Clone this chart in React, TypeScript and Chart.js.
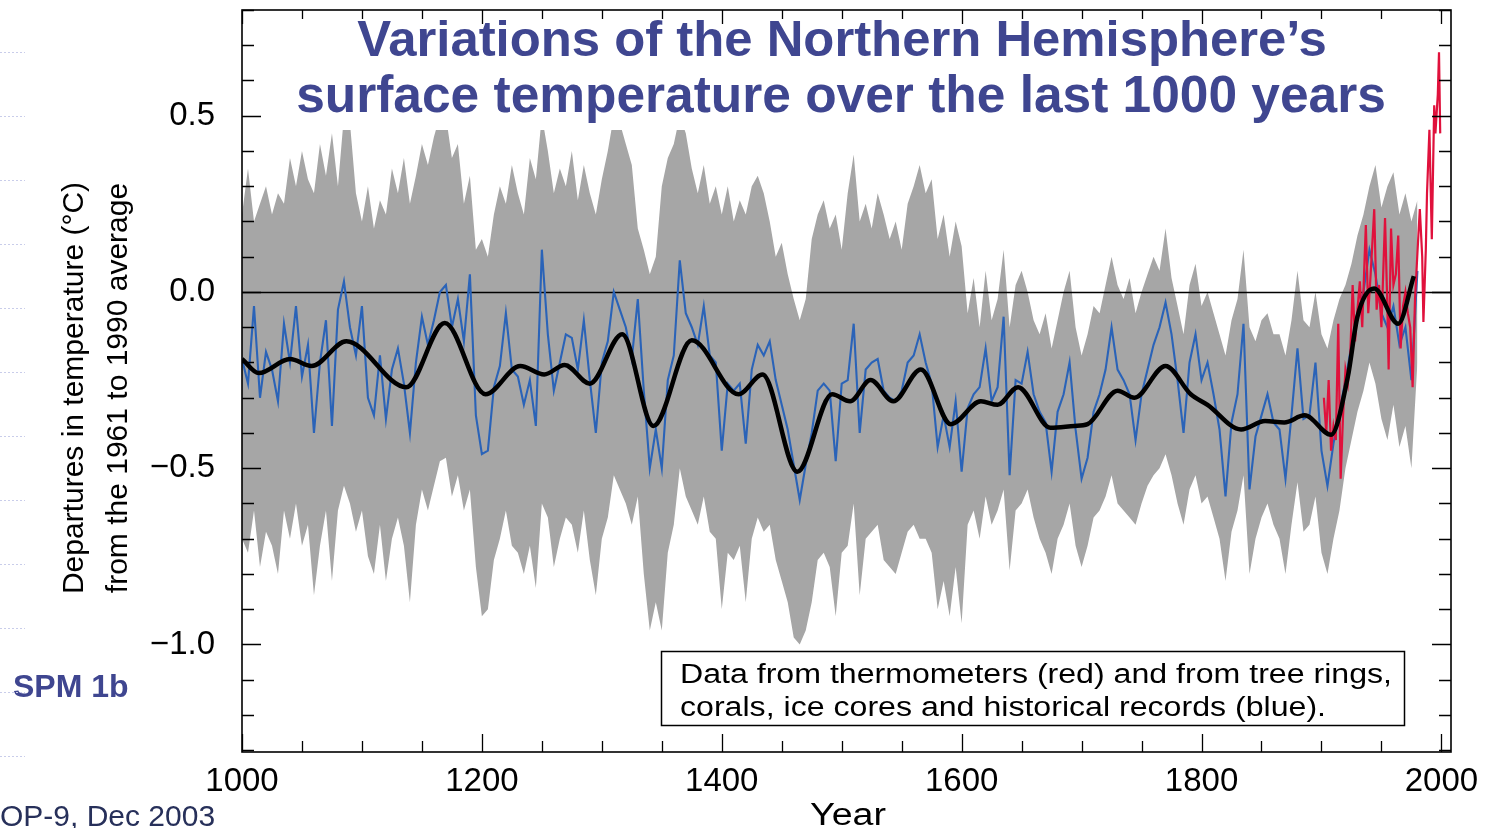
import React, { useEffect, useRef } from 'react';
import { Chart, registerables } from 'chart.js';

Chart.register(...registerables);

const W = 1486;
const H = 828;

// ---- Data ----
const proxyYears = Array.from({ length: 197 }, (_, i) => 1000 + i * 5);

const blueValues = [
  -0.19, -0.26, -0.04, -0.30, -0.17, -0.22, -0.31, -0.09, -0.20, -0.04, -0.24, -0.15, -0.40, -0.20, -0.08, -0.38, -0.05, 0.03, -0.10, -0.18,
  -0.04, -0.30, -0.35, -0.18, -0.36, -0.22, -0.16, -0.26, -0.40, -0.20, -0.07, -0.15, -0.08, 0.00, 0.02, -0.10, -0.02, -0.14, 0.05, -0.35,
  -0.46, -0.45, -0.27, -0.21, -0.06, -0.22, -0.24, -0.32, -0.25, -0.38, 0.12, -0.12, -0.28, -0.20, -0.12, -0.13, -0.22, -0.08, -0.25, -0.40,
  -0.20, -0.14, 0.00, -0.05, -0.10, -0.19, -0.02, -0.28, -0.50, -0.39, -0.50, -0.25, -0.18, 0.09, -0.06, -0.10, -0.15, -0.04, -0.18, -0.20,
  -0.45, -0.26, -0.28, -0.26, -0.43, -0.22, -0.15, -0.18, -0.14, -0.25, -0.32, -0.39, -0.49, -0.59, -0.49, -0.40, -0.28, -0.26, -0.28, -0.48,
  -0.26, -0.25, -0.09, -0.40, -0.22, -0.20, -0.19, -0.28, -0.30, -0.31, -0.28, -0.20, -0.18, -0.12, -0.20, -0.26, -0.44, -0.35, -0.44, -0.31,
  -0.51, -0.33, -0.29, -0.27, -0.16, -0.31, -0.27, -0.07, -0.52, -0.25, -0.26, -0.17, -0.29, -0.34, -0.37, -0.51, -0.34, -0.29, -0.20, -0.39,
  -0.53, -0.47, -0.34, -0.29, -0.22, -0.10, -0.22, -0.25, -0.29, -0.42, -0.29, -0.22, -0.15, -0.10, -0.03, -0.12, -0.25, -0.40, -0.20, -0.12,
  -0.25, -0.20, -0.29, -0.39, -0.58, -0.37, -0.29, -0.09, -0.56, -0.41, -0.35, -0.29, -0.37, -0.39, -0.53, -0.35, -0.16, -0.36, -0.35, -0.20,
  -0.45, -0.55, -0.43, -0.34, -0.25, -0.15, -0.06, 0.00, 0.12, 0.05, -0.06, -0.10, -0.04, -0.15, -0.10, -0.25, 0.06,
];

const upperValues = [
  0.22, 0.35, 0.20, 0.25, 0.30, 0.22, 0.28, 0.25, 0.38, 0.30, 0.40, 0.32, 0.28, 0.42, 0.33, 0.45, 0.30, 0.50, 0.48, 0.28,
  0.20, 0.30, 0.18, 0.26, 0.22, 0.35, 0.28, 0.38, 0.25, 0.33, 0.42, 0.36, 0.44, 0.50, 0.50, 0.38, 0.42, 0.25, 0.33, 0.12,
  0.15, 0.10, 0.22, 0.30, 0.25, 0.36, 0.28, 0.22, 0.38, 0.32, 0.50, 0.40, 0.28, 0.35, 0.30, 0.40, 0.26, 0.36, 0.28, 0.22,
  0.32, 0.40, 0.50, 0.48, 0.42, 0.36, 0.18, 0.12, 0.05, 0.10, 0.30, 0.38, 0.42, 0.50, 0.45, 0.35, 0.28, 0.36, 0.25, 0.30,
  0.22, 0.30, 0.20, 0.26, 0.22, 0.30, 0.33, 0.28, 0.20, 0.10, 0.14, 0.05, -0.02, -0.08, -0.02, 0.15, 0.22, 0.26, 0.18, 0.22,
  0.12, 0.28, 0.39, 0.20, 0.25, 0.18, 0.28, 0.22, 0.15, 0.20, 0.12, 0.25, 0.30, 0.36, 0.28, 0.32, 0.15, 0.22, 0.10, 0.20,
  0.13, -0.06, 0.04, -0.10, 0.06, -0.08, -0.02, 0.12, -0.10, 0.02, 0.06, 0.00, -0.08, -0.12, -0.06, -0.16, -0.08, 0.00, 0.06, -0.10,
  -0.18, -0.12, -0.04, -0.06, 0.02, 0.10, 0.02, -0.02, 0.04, -0.06, 0.00, 0.05, 0.10, 0.06, 0.18, 0.04, -0.04, -0.12, 0.02, 0.08,
  -0.04, 0.00, -0.06, -0.12, -0.18, -0.08, -0.02, 0.12, -0.10, -0.14, -0.08, -0.06, -0.12, -0.12, -0.18, -0.08, 0.06, -0.08, -0.10, 0.00,
  -0.12, -0.16, -0.08, -0.02, 0.02, 0.08, 0.16, 0.22, 0.30, 0.36, 0.24, 0.30, 0.34, 0.22, 0.28, 0.20, 0.26,
];

const lowerValues = [
  -0.70, -0.74, -0.62, -0.78, -0.68, -0.72, -0.80, -0.62, -0.70, -0.60, -0.72, -0.66, -0.86, -0.72, -0.62, -0.82, -0.62, -0.55, -0.60, -0.68,
  -0.62, -0.75, -0.80, -0.66, -0.82, -0.70, -0.64, -0.72, -0.88, -0.66, -0.56, -0.62, -0.55, -0.48, -0.47, -0.58, -0.52, -0.62, -0.56, -0.78,
  -0.92, -0.90, -0.76, -0.70, -0.62, -0.72, -0.74, -0.80, -0.72, -0.84, -0.60, -0.64, -0.78, -0.70, -0.64, -0.66, -0.74, -0.62, -0.76, -0.86,
  -0.70, -0.64, -0.52, -0.56, -0.60, -0.66, -0.58, -0.80, -0.96, -0.88, -0.96, -0.74, -0.66, -0.50, -0.58, -0.62, -0.66, -0.58, -0.68, -0.70,
  -0.90, -0.74, -0.76, -0.72, -0.88, -0.70, -0.64, -0.68, -0.66, -0.76, -0.82, -0.88, -0.98, -1.00, -0.96, -0.88, -0.76, -0.74, -0.78, -0.92,
  -0.74, -0.72, -0.60, -0.86, -0.70, -0.68, -0.66, -0.76, -0.78, -0.80, -0.74, -0.68, -0.66, -0.70, -0.70, -0.74, -0.90, -0.82, -0.92, -0.78,
  -0.94, -0.66, -0.62, -0.70, -0.58, -0.66, -0.62, -0.56, -0.79, -0.62, -0.60, -0.56, -0.64, -0.70, -0.74, -0.80, -0.70, -0.66, -0.60, -0.72,
  -0.78, -0.72, -0.64, -0.62, -0.58, -0.52, -0.60, -0.62, -0.64, -0.66, -0.60, -0.55, -0.52, -0.50, -0.46, -0.52, -0.60, -0.66, -0.56, -0.52,
  -0.60, -0.58, -0.64, -0.70, -0.82, -0.68, -0.62, -0.52, -0.80, -0.70, -0.64, -0.60, -0.66, -0.70, -0.80, -0.66, -0.54, -0.68, -0.66, -0.58,
  -0.74, -0.80, -0.70, -0.62, -0.50, -0.42, -0.34, -0.28, -0.20, -0.26, -0.36, -0.42, -0.32, -0.44, -0.38, -0.50, -0.20,
];

const smoothYears = [
  1000, 1014, 1040, 1058, 1087, 1137, 1169, 1203, 1232, 1252, 1269, 1290, 1317, 1343, 1375, 1414, 1434, 1463,
  1492, 1507, 1524, 1543, 1566, 1591, 1616, 1630, 1647, 1674, 1694, 1705, 1730, 1744, 1770, 1791, 1805, 1833,
  1853, 1869, 1886, 1908, 1922, 1930, 1944, 1964, 1977,
];
const smoothValues = [
  -0.19, -0.23, -0.19, -0.21, -0.14, -0.27, -0.088, -0.29, -0.21, -0.234, -0.207, -0.26, -0.12, -0.38, -0.137, -0.29, -0.234, -0.51,
  -0.29, -0.31, -0.25, -0.31, -0.22, -0.375, -0.31, -0.32, -0.27, -0.385, -0.38, -0.375, -0.28, -0.30, -0.21, -0.29, -0.32, -0.39,
  -0.366, -0.37, -0.35, -0.405, -0.24, -0.07, 0.01, -0.09, 0.045,
];

const redYears = [
  1902, 1904, 1906, 1908, 1910, 1912, 1914, 1916, 1918, 1920, 1922, 1924, 1926, 1928, 1930, 1932, 1934, 1936, 1937, 1939,
  1941, 1944, 1946, 1948, 1950, 1953, 1955, 1956, 1958, 1960, 1962, 1964, 1966, 1968, 1970, 1972, 1974, 1976, 1978, 1980,
  1982, 1984, 1985, 1987, 1988, 1990, 1992, 1994, 1995, 1997, 1998, 1999,
];
const redValues = [
  -0.30, -0.40, -0.25, -0.45, -0.38, -0.42, -0.09, -0.53, -0.35, -0.22, -0.26, -0.18, 0.02, -0.14, -0.05, 0.03, -0.10, 0.10, 0.19, -0.06,
  0.05, 0.235, -0.05, 0.02, -0.10, 0.21, -0.05, -0.22, 0.18, 0.02, 0.05, 0.16, -0.16, -0.04, 0.00, -0.06, -0.10, -0.27, -0.02, 0.11,
  0.235, 0.10, -0.085, 0.12, 0.28, 0.46, 0.15, 0.53, 0.45, 0.56, 0.68, 0.45,
];

const xTickValues = [1000, 1200, 1400, 1600, 1800, 2000];
const yTickValues = [-1.0, -0.5, 0.0, 0.5];

const titleLines = ['Variations of the Northern Hemisphere\u2019s', 'surface temperature over the last 1000 years'];
const yTitleLines = ['Departures in temperature (\u00B0C)', 'from the 1961 to 1990 average'];
const xTitle = 'Year';
const noteLines = ['Data from thermometers (red) and from tree rings,', 'corals, ice cores and historical records (blue).'];
const slideTag = 'SPM 1b';
const footerText = 'OP-9, Dec 2003';

const FONT = "'Liberation Sans', Arial, Helvetica, sans-serif";
const TITLE_COLOR = '#3f4690';

const toPoints = (xs: number[], ys: number[]) => xs.map((x, i) => ({ x, y: ys[i] }));

const fmtY = (v: number) => (v < -1e-9 ? '\u2212' : '') + Math.abs(v).toFixed(1);

function fitSize(ctx: CanvasRenderingContext2D, text: string, weight: string, target: number) {
  ctx.font = `${weight} 100px ${FONT}`;
  const w = ctx.measureText(text).width;
  return (100 * target) / w;
}

const decorPlugin = {
  id: 'decor',
  beforeDatasetDraw(chart: any, args: any) {
    if (args.index !== 2) return;
    const { ctx, chartArea: a, scales } = chart;
    const py = Math.round(scales.y.getPixelForValue(0)) + 0.5;
    ctx.save();
    ctx.strokeStyle = '#000';
    ctx.lineWidth = 1.3;
    ctx.beginPath();
    ctx.moveTo(a.left, py);
    ctx.lineTo(a.right, py);
    ctx.stroke();
    ctx.restore();
  },
  afterDatasetsDraw(chart: any) {
    const { ctx, chartArea: a, scales } = chart;
    const xs = scales.x;
    const ys = scales.y;
    ctx.save();

    // white panel behind the title
    ctx.fillStyle = '#fff';
    ctx.fillRect(a.left + 1, a.top + 1, 1418 - a.left, 130 - a.top - 1);

    // title
    ctx.fillStyle = TITLE_COLOR;
    ctx.textAlign = 'center';
    ctx.textBaseline = 'alphabetic';
    const s1 = fitSize(ctx, titleLines[0], 'bold', 970);
    ctx.font = `bold ${s1}px ${FONT}`;
    ctx.fillText(titleLines[0], 842, 56);
    const s2 = fitSize(ctx, titleLines[1], 'bold', 1090);
    ctx.font = `bold ${s2}px ${FONT}`;
    ctx.fillText(titleLines[1], 841, 112);

    // note box
    ctx.fillStyle = '#fff';
    ctx.fillRect(661, 651, 744, 75);
    ctx.strokeStyle = '#000';
    ctx.lineWidth = 1.5;
    ctx.strokeRect(661.5, 651.5, 743, 74);
    ctx.font = `27px ${FONT}`;
    const nw = ctx.measureText(noteLines[0]).width;
    const sx = 712 / nw;
    ctx.fillStyle = '#000';
    ctx.textAlign = 'left';
    ctx.save();
    ctx.translate(680, 0);
    ctx.scale(sx, 1);
    ctx.fillText(noteLines[0], 0, 683);
    ctx.fillText(noteLines[1], 0, 716);
    ctx.restore();

    // inward ticks
    ctx.strokeStyle = '#000';
    ctx.lineWidth = 1.3;
    ctx.beginPath();
    for (let i = -13; i <= 8; i++) {
      const py = Math.round(ys.getPixelForValue(i / 10)) + 0.5;
      if (py < a.top || py > a.bottom) continue;
      const len = i % 5 === 0 ? 19 : 12;
      ctx.moveTo(a.left, py);
      ctx.lineTo(a.left + len, py);
      ctx.moveTo(a.right, py);
      ctx.lineTo(a.right - len, py);
    }
    for (let yr = 1000; yr <= 2000; yr += 50) {
      const px = Math.round(xs.getPixelForValue(yr)) + 0.5;
      const len = yr % 200 === 0 ? 18 : 11;
      ctx.moveTo(px, a.bottom);
      ctx.lineTo(px, a.bottom - len);
      ctx.moveTo(px, a.top);
      ctx.lineTo(px, a.top + (yr % 200 === 0 ? 14 : 9));
    }
    ctx.stroke();

    // frame
    ctx.lineWidth = 1.6;
    ctx.strokeRect(a.left, a.top, a.right - a.left, a.bottom - a.top);
    ctx.restore();
  },
  afterDraw(chart: any) {
    const { ctx } = chart;
    ctx.save();
    // y title (two rotated lines)
    ctx.fillStyle = '#000';
    ctx.font = `30px ${FONT}`;
    ctx.textAlign = 'center';
    ctx.textBaseline = 'alphabetic';
    const baseX = [83, 127];
    yTitleLines.forEach((t, i) => {
      ctx.save();
      ctx.translate(baseX[i], 388);
      ctx.rotate(-Math.PI / 2);
      ctx.fillText(t, 0, 0);
      ctx.restore();
    });
    // x title
    ctx.font = `31px ${FONT}`;
    const yw = ctx.measureText(xTitle).width;
    ctx.save();
    ctx.translate(848, 825);
    ctx.scale(76 / yw, 1);
    ctx.fillText(xTitle, 0, 0);
    ctx.restore();

    // slide decorations
    ctx.textAlign = 'left';
    ctx.fillStyle = TITLE_COLOR;
    ctx.font = `bold 32px ${FONT}`;
    ctx.fillText(slideTag, 13, 697);
    ctx.fillStyle = '#27305a';
    ctx.font = `30px ${FONT}`;
    ctx.fillText(footerText, 0, 826);

    ctx.strokeStyle = '#c9cdea';
    ctx.lineWidth = 1;
    ctx.setLineDash([2, 2]);
    ctx.beginPath();
    for (let k = 0; k < 12; k++) {
      const yy = 52 + 64 * k + 0.5;
      ctx.moveTo(0, yy);
      ctx.lineTo(25, yy);
    }
    ctx.stroke();
    ctx.restore();
  },
};

export default function App() {
  const canvasRef = useRef<HTMLCanvasElement | null>(null);

  useEffect(() => {
    const canvas = canvasRef.current;
    if (!canvas) return;
    const chart = new Chart(canvas, {
      type: 'line',
      data: {
        datasets: [
          {
            label: 'Smoothed',
            data: toPoints(smoothYears, smoothValues),
            borderColor: '#000000',
            borderWidth: 4.5,
            pointRadius: 0,
            cubicInterpolationMode: 'monotone',
            fill: false,
          },
          {
            label: 'Thermometers',
            data: toPoints(redYears, redValues),
            borderColor: '#e0113c',
            borderWidth: 2.2,
            pointRadius: 0,
            tension: 0,
            fill: false,
          },
          {
            label: 'Proxy',
            data: toPoints(proxyYears, blueValues),
            borderColor: '#2a63b8',
            borderWidth: 2.1,
            pointRadius: 0,
            tension: 0,
            fill: false,
          },
          {
            label: 'Upper',
            data: toPoints(proxyYears, upperValues),
            borderColor: 'rgba(0,0,0,0)',
            borderWidth: 1,
            pointRadius: 0,
            tension: 0,
            fill: false,
          },
          {
            label: 'Lower',
            data: toPoints(proxyYears, lowerValues),
            borderColor: 'rgba(0,0,0,0)',
            backgroundColor: '#a6a6a6',
            borderWidth: 1,
            pointRadius: 0,
            tension: 0,
            fill: '-1',
          },
        ],
      },
      options: {
        animation: false,
        responsive: false,
        events: [],
        layout: { padding: { left: 0, right: 35, top: 10, bottom: 0 } },
        plugins: {
          legend: { display: false },
          tooltip: { enabled: false },
          title: { display: false },
        },
        scales: {
          x: {
            type: 'linear',
            min: 1000,
            max: 2008,
            afterBuildTicks: (s: any) => {
              s.ticks = xTickValues.map((v) => ({ value: v }));
            },
            afterFit: (s: any) => {
              s.height = 76;
              s.paddingLeft = 0;
              s.paddingRight = 0;
            },
            grid: { display: false, drawTicks: false },
            border: { display: false },
            ticks: {
              autoSkip: false,
              maxRotation: 0,
              padding: 10,
              color: '#000',
              font: { family: FONT, size: 33 },
              callback: (v: any) => String(v),
            },
          },
          y: {
            type: 'linear',
            min: -1.305,
            max: 0.8,
            afterBuildTicks: (s: any) => {
              s.ticks = yTickValues.map((v) => ({ value: v }));
            },
            afterFit: (s: any) => {
              s.width = 242;
              s.paddingTop = 0;
              s.paddingBottom = 0;
            },
            grid: { display: false, drawTicks: false },
            border: { display: false },
            ticks: {
              autoSkip: false,
              padding: 27,
              color: '#000',
              font: { family: FONT, size: 33 },
              callback: (v: any) => fmtY(Number(v)),
            },
          },
        },
      },
      plugins: [decorPlugin],
    } as any);
    return () => chart.destroy();
  }, []);

  return (
    <div style={{ position: 'fixed', left: 0, top: 0, width: W, height: H, background: '#fff' }}>
      <canvas ref={canvasRef} width={W} height={H} style={{ display: 'block', width: W, height: H }} />
    </div>
  );
}
